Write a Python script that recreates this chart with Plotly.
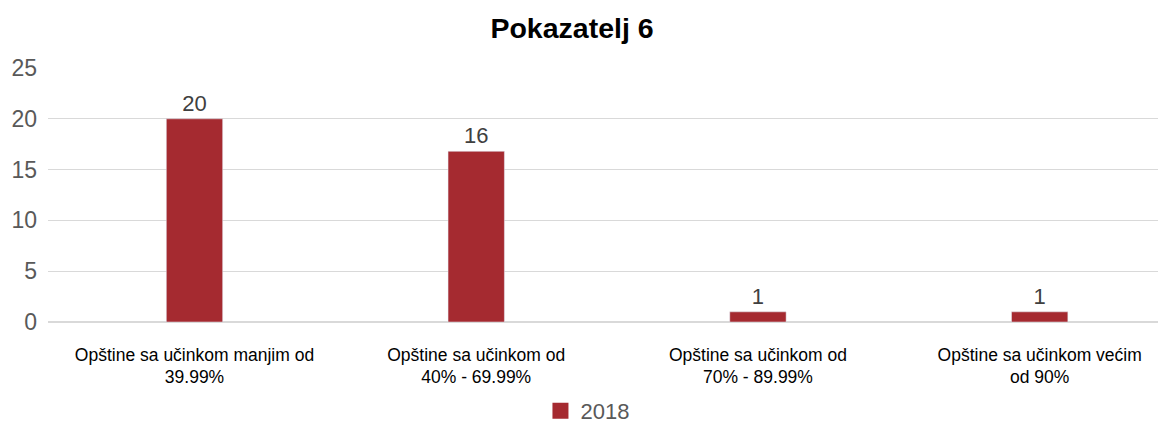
import plotly.graph_objects as go

categories = [
    "Opštine sa učinkom manjim od<br>39.99%",
    "Opštine sa učinkom od<br>40% - 69.99%",
    "Opštine sa učinkom od<br>70% - 89.99%",
    "Opštine sa učinkom većim<br>od 90%",
]
series_name = "2018"
values_2018 = [20, 16.8, 1, 1]
labels_2018 = ["20", "16", "1", "1"]
bar_color = "#A52A30"

fig = go.Figure()
fig.add_trace(go.Bar(
    x=categories, y=values_2018, name=series_name, showlegend=False,
    marker_color=bar_color,
    text=labels_2018, textposition="outside", cliponaxis=False,
    textfont=dict(size=22, color="#404040"),
))
# legend entry with a bigger square swatch than the default bar one
fig.add_trace(go.Scatter(
    x=[None], y=[None], mode="markers", name=series_name,
    marker=dict(symbol="square", size=18, color=bar_color),
))

fig.update_layout(
    width=1158, height=425,
    margin=dict(l=48, r=0, t=68, b=103, autoexpand=False),
    plot_bgcolor="white", paper_bgcolor="white",
    font=dict(family="Liberation Sans, Arial, sans-serif"),
    title=dict(text="<b>Pokazatelj 6</b>", x=0.494, xanchor="center",
               y=0.935, yanchor="middle",
               font=dict(size=28.5, color="black")),
    bargap=0.8,
    showlegend=True,
    legend=dict(orientation="h", x=0.486, xanchor="center", y=-0.35, yanchor="middle",
                itemwidth=30,
                font=dict(size=22, color="#595959")),
)
fig.update_yaxes(range=[0, 25], dtick=5, showgrid=True, gridcolor="#D9D9D9", gridwidth=1,
                 zeroline=True, zerolinecolor="#D9D9D9", automargin=False,
                 tickfont=dict(size=23, color="#595959"), ticks="", ticklabelstandoff=10)
fig.update_xaxes(range=[-0.52, 3.42], showgrid=False, showline=False, ticks="",
                 automargin=False,
                 tickfont=dict(size=17.5, color="black"),
                 ticklabelstandoff=20)

# page margin off so the figure sits at the window's corner
fig.write_html("out.html", config={"displayModeBar": False},
               post_script="document.body.style.margin='0';")
